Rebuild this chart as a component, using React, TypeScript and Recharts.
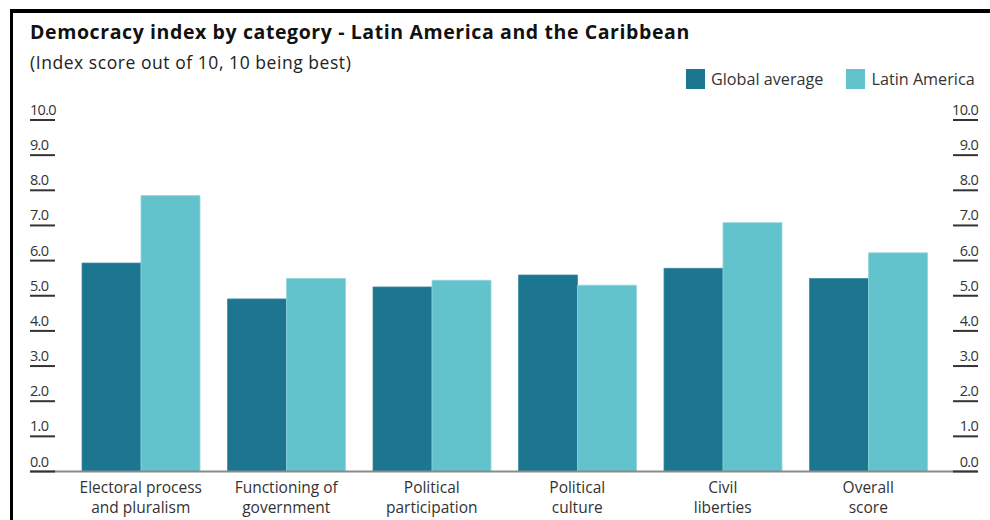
import React from "react";
import { BarChart, Bar, XAxis, YAxis } from "recharts";

const categories = [
  "Electoral process and pluralism",
  "Functioning of government",
  "Political participation",
  "Political culture",
  "Civil liberties",
  "Overall score",
];
const categoryLines = [
  ["Electoral process", "and pluralism"],
  ["Functioning of", "government"],
  ["Political", "participation"],
  ["Political", "culture"],
  ["Civil", "liberties"],
  ["Overall", "score"],
];
const globalAverage = [5.93, 4.91, 5.25, 5.59, 5.78, 5.49];
const latinAmerica = [7.85, 5.49, 5.44, 5.3, 7.08, 6.22];
const yTicks = [0, 1, 2, 3, 4, 5, 6, 7, 8, 9, 10];

const seriesNames = { g: "Global average", l: "Latin America" };
const DARK = "#1d7690";
const LIGHT = "#63c3cc";
const TEXT = "#333333";
const FONT = "'Open Sans', Lato, sans-serif";

const data = categories.map((c, i) => ({
  category: c,
  g: globalAverage[i],
  l: latinAmerica[i],
}));

const PLOT_LEFT = 68;
const PLOT_RIGHT = 941;

const LeftTick = (props: any) => {
  const { y, payload } = props;
  const x0 = 30;
  return (
    <g>
      {payload.value === 0 && (
        <line x1={x0} x2={PLOT_LEFT} y1={y} y2={y} stroke="#8a8a8a" strokeWidth={2} />
      )}
      <line x1={x0} x2={x0 + 25} y1={y} y2={y} stroke="#333" strokeWidth={2} />
      <text x={x0} y={y - 5} textAnchor="start" fontSize={14.5} fill={TEXT} fontFamily={FONT} letterSpacing={-0.7}>
        {payload.value.toFixed(1)}
      </text>
    </g>
  );
};

const RightTick = (props: any) => {
  const { y, payload } = props;
  const x1 = 978;
  return (
    <g>
      {payload.value === 0 && (
        <line x1={PLOT_RIGHT} x2={x1} y1={y} y2={y} stroke="#8a8a8a" strokeWidth={2} />
      )}
      <line x1={x1 - 25} x2={x1} y1={y} y2={y} stroke="#333" strokeWidth={2} />
      <text x={x1} y={y - 5} textAnchor="end" fontSize={14.5} fill={TEXT} fontFamily={FONT} letterSpacing={-0.7}>
        {payload.value.toFixed(1)}
      </text>
    </g>
  );
};

const XTick = (props: any) => {
  const { x, payload, index } = props;
  const lines = categoryLines[index] || [payload.value];
  return (
    <g>
      {lines.map((ln: string, i: number) => (
        <text
          key={i}
          x={x}
          y={492.5 + i * 20.5}
          textAnchor="middle"
          fontSize={15.5}
          fill={TEXT}
          fontFamily={FONT}
        >
          {ln}
        </text>
      ))}
    </g>
  );
};

const LegendBlock = () => (
  <div
    style={{
      position: "absolute",
      top: 69,
      left: 686,
      display: "flex",
      alignItems: "center",
      fontFamily: FONT,
      fontSize: 16.2,
      color: TEXT,
      whiteSpace: "nowrap",
      lineHeight: "20px",
    }}
  >
    <span style={{ width: 19, height: 20, background: DARK, display: "inline-block", marginRight: 6 }} />
    <span style={{ marginRight: 23 }}>{seriesNames.g}</span>
    <span style={{ width: 19, height: 20, background: LIGHT, display: "inline-block", marginRight: 6 }} />
    <span>{seriesNames.l}</span>
  </div>
);

export default function App() {
  return (
    <div style={{ position: "absolute", left: 0, top: 0, width: 990, height: 520, background: "#fff", overflow: "hidden" }}>
      <div
        style={{
          position: "absolute",
          left: 10,
          top: 9,
          width: 1000,
          height: 540,
          borderTop: "4px solid #000",
          borderLeft: "3.5px solid #000",
        }}
      />
      <div
        style={{
          position: "absolute",
          left: 30,
          top: 19,
          fontFamily: FONT,
          fontWeight: 700,
          fontSize: 19.5,
          letterSpacing: 0.6,
          lineHeight: "26px",
          color: "#111",
          whiteSpace: "nowrap",
        }}
      >
        Democracy index by category - Latin America and the Caribbean
      </div>
      <div
        style={{
          position: "absolute",
          left: 30,
          top: 49,
          fontFamily: FONT,
          fontSize: 17.5,
          letterSpacing: 0.55,
          lineHeight: "26px",
          color: "#222",
          whiteSpace: "nowrap",
        }}
      >
        (Index score out of 10, 10 being best)
      </div>
      <div style={{ position: "absolute", left: 0, top: 0 }}>
        <BarChart
          width={990}
          height={520}
          data={data}
          margin={{ top: 120, right: 11, bottom: 3.5, left: 28 }}
          barCategoryGap={14}
          barGap={0}
        >
          <XAxis
            dataKey="category"
            axisLine={{ stroke: "#8a8a8a", strokeWidth: 2 }}
            tickLine={false}
            tick={<XTick />}
            height={45}
            interval={0}
          />
          <YAxis
            yAxisId="left"
            orientation="left"
            domain={[0, 10]}
            ticks={yTicks}
            width={40}
            axisLine={false}
            tickLine={false}
            tick={<LeftTick />}
            interval={0}
          />
          <YAxis
            yAxisId="right"
            orientation="right"
            domain={[0, 10]}
            ticks={yTicks}
            width={38}
            axisLine={false}
            tickLine={false}
            tick={<RightTick />}
            interval={0}
          />
          <Bar yAxisId="left" dataKey="g" name={seriesNames.g} fill={DARK} stroke="#3f8aa1" strokeWidth={0.8} isAnimationActive={false} />
          <Bar yAxisId="right" dataKey="l" name={seriesNames.l} fill={LIGHT} stroke="#8fd6dc" strokeWidth={0.8} isAnimationActive={false} />
        </BarChart>
      </div>
      <LegendBlock />
    </div>
  );
}
